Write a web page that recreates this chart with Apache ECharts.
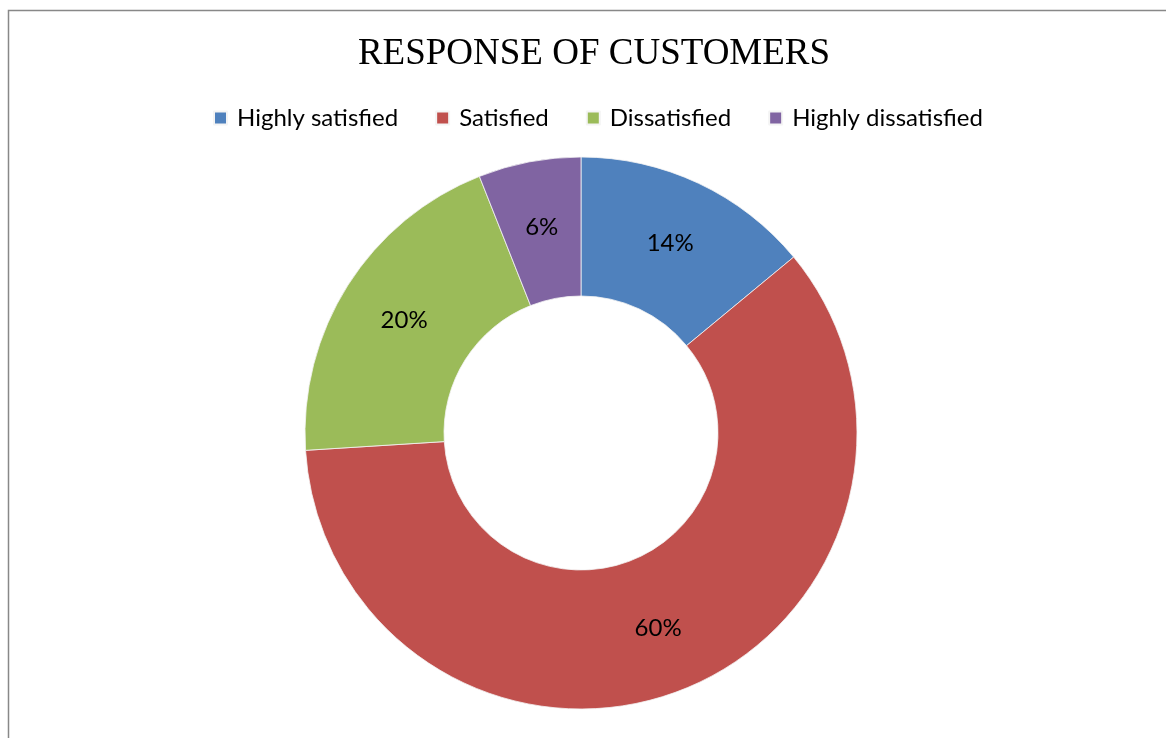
<!DOCTYPE html>
<html>
<head>
<meta charset="utf-8">
<style>
  html, body { margin: 0; padding: 0; background: #fff; }
  #chart { width: 1166px; height: 738px; }
</style>
<script src="https://cdn.jsdelivr.net/npm/echarts@6/dist/echarts.min.js"></script>
</head>
<body>
<div id="chart"></div>
<script>
// Customer response survey (percent of respondents)
const categories = ['Highly satisfied', 'Satisfied', 'Dissatisfied', 'Highly dissatisfied'];
const shares = [14, 60, 20, 6];
const colors = ['#4F81BD', '#C0504D', '#9BBB59', '#8064A2'];

const chart = echarts.init(document.getElementById('chart'), null, { renderer: 'canvas' });

const data = categories.map((name, i) => ({
  name,
  value: shares[i],
  itemStyle: { color: colors[i] }
}));

chart.setOption({
  backgroundColor: '#ffffff',
  animation: false,
  title: {
    text: 'RESPONSE OF CUSTOMERS',
    left: 589,
    textAlign: 'center',
    top: 31,
    textStyle: {
      fontFamily: '"Liberation Serif", "DejaVu Serif", serif',
      fontSize: 37,
      fontWeight: 'normal',
      color: '#000'
    }
  },
  legend: {
    data: categories,
    left: 208,
    top: 101,
    icon: 'rect',
    itemWidth: 13,
    itemHeight: 13,
    itemGap: 37,
    textStyle: {
      fontFamily: 'Lato, "Noto Sans", sans-serif',
      fontSize: 24,
      color: '#000',
      padding: [0, 0, 0, 5]
    }
  },
  graphic: [{
    type: 'rect',
    shape: { x: 8.5, y: 10.5, width: 1200, height: 800 },
    style: { fill: 'none', stroke: '#888888', lineWidth: 1.5 },
    silent: true
  }],
  series: [{
    type: 'pie',
    center: [581, 433],
    radius: [137, 276],
    startAngle: 90,
    clockwise: true,
    avoidLabelOverlap: false,
    itemStyle: { borderColor: '#f4f4f4', borderWidth: 0.8 },
    label: {
      show: true,
      position: 'inside',
      formatter: '{c}%',
      fontFamily: 'Lato, "Noto Sans", sans-serif',
      fontSize: 24,
      color: '#000'
    },
    labelLine: { show: false },
    emphasis: { disabled: true },
    data
  }]
});
</script>
</body>
</html>
